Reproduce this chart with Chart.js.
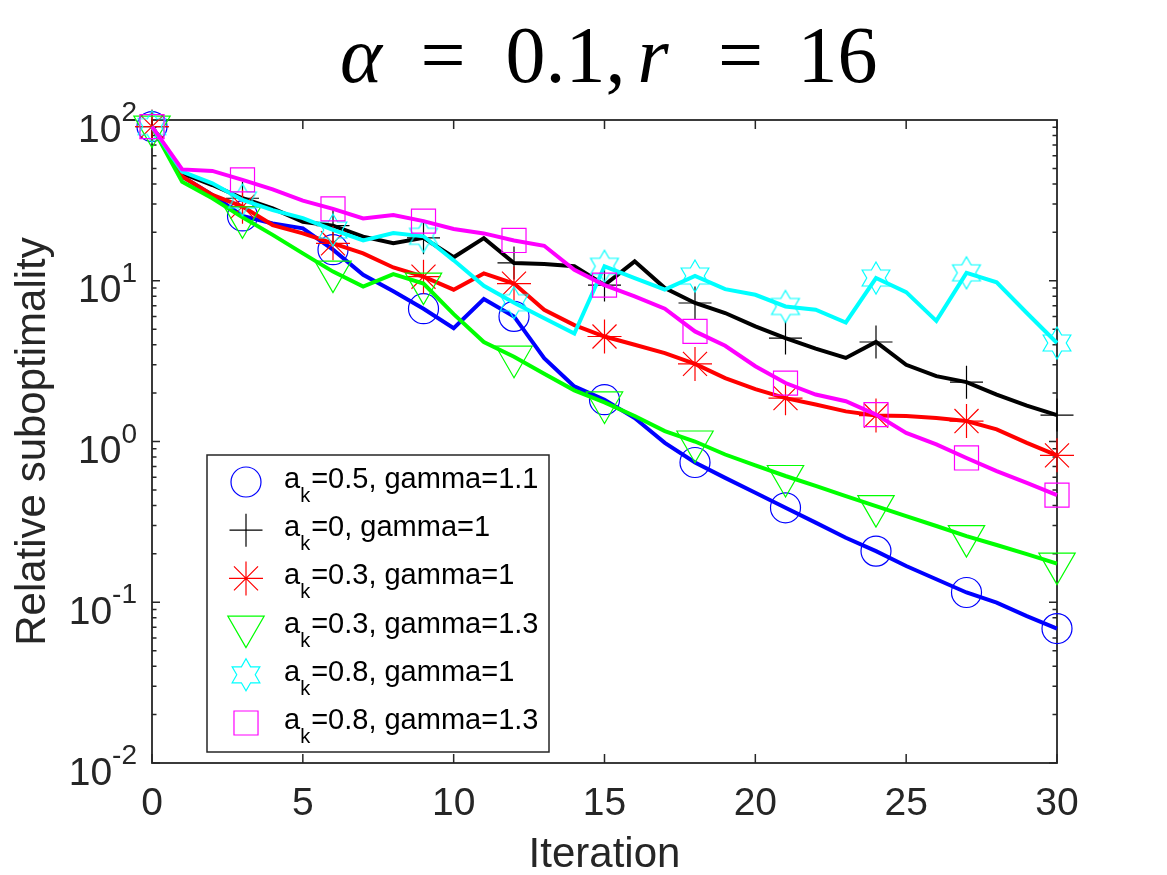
<!DOCTYPE html>
<html>
<head>
<meta charset="utf-8">
<title>Relative suboptimality</title>
<script src="https://cdn.jsdelivr.net/npm/chart.js@4/dist/chart.umd.min.js"></script>
<style>
  html, body { margin: 0; padding: 0; background: #fff; }
  #chart { display: block; }
</style>
</head>
<body>
<canvas id="chart" width="1167" height="875"></canvas>
<script>
// data
const iterations = [0, 1, 2, 3, 4, 5, 6, 7, 8, 9, 10, 11, 12, 13, 14, 15,
  16, 17, 18, 19, 20, 21, 22, 23, 24, 25, 26, 27, 28, 29, 30];
const xTicks = [0, 5, 10, 15, 20, 25, 30];
const yTickExps = [2, 1, 0, -1, -2];

const ak05g11 = [91, 44.5, 34.2, 25.3, 22.7, 21.2, 15.6, 10.9, 8.6, 6.7, 5.07, 7.7, 6.0, 3.3, 2.2, 1.82,
  1.4, 0.98, 0.74, 0.594, 0.48, 0.387, 0.313, 0.252, 0.208, 0.168, 0.139, 0.115, 0.0995, 0.082, 0.0686];
const ak0g1 = [91, 46.6, 39.4, 32.6, 28.2, 23.3, 22.0, 18.8, 17.1, 18.5, 14.0, 18.4, 12.9, 12.7, 12.3, 9.4,
  13.2, 9.0, 7.27, 6.3, 5.2, 4.4, 3.78, 3.31, 4.16, 3.0, 2.55, 2.34, 1.96, 1.67, 1.46];
const ak03g1 = [91, 44.5, 34.2, 28.9, 22.2, 19.7, 17.1, 14.8, 12.1, 10.6, 8.8, 11.1, 9.6, 6.6, 5.3, 4.5,
  4.0, 3.55, 3.04, 2.48, 2.12, 1.86, 1.70, 1.54, 1.45, 1.44, 1.40, 1.34, 1.19, 0.98, 0.82];
const ak03g13 = [91, 41.3, 32.6, 24.8, 19.3, 14.8, 11.4, 9.2, 11.0, 9.6, 6.2, 4.16, 3.37, 2.64, 2.08, 1.75,
  1.44, 1.16, 1.0, 0.83, 0.71, 0.61, 0.53, 0.457, 0.396, 0.343, 0.298, 0.258, 0.227, 0.199, 0.174];
const ak08g1 = [91, 47.7, 40.4, 31.8, 27.5, 24.5, 20.7, 17.8, 19.8, 18.9, 13.4, 9.3, 7.3, 5.85, 4.7, 12.3,
  10.4, 8.8, 10.7, 8.87, 8.18, 6.92, 6.6, 5.5, 10.4, 8.5, 5.63, 11.2, 9.77, 6.3, 4.1];
const ak08g13 = [91, 49.3, 48.2, 42.4, 37.0, 31.5, 28.0, 24.4, 25.6, 23.5, 21.0, 19.7, 17.8, 16.5, 11.7, 9.4,
  8.0, 6.7, 4.84, 3.94, 2.94, 2.31, 1.96, 1.78, 1.47, 1.13, 0.96, 0.79, 0.655, 0.553, 0.464];

const seriesNames = ['=0.5, gamma=1.1', '=0, gamma=1', '=0.3, gamma=1',
  '=0.3, gamma=1.3', '=0.8, gamma=1', '=0.8, gamma=1.3'];
const seriesValues = [ak05g11, ak0g1, ak03g1, ak03g13, ak08g1, ak08g13];
const seriesColors = ['#0000ff', '#000000', '#ff0000', '#00ff00', '#00ffff', '#ff00ff'];
const seriesMarkers = ['circle', 'cross', 'star', 'triangleDown', 'hexagram', 'rect'];

const AXIS = '#262626';
const SANS = '"Liberation Sans", Arial, Helvetica, sans-serif';
const SERIF = '"Liberation Serif", "Times New Roman", serif';
const MARK_EVERY = 3;

// marker sizes (Chart.js radius semantics)
const markerRadius = { circle: 15, cross: 16.5, star: 17, triangleDown: 21, hexagram: 16, rect: 17 };

// six pointed star, not built into Chart.js
function hexagramPath(g, x, y, r) {
  const inner = r / Math.sqrt(3);
  g.beginPath();
  for (let k = 0; k < 12; k++) {
    const a = -Math.PI / 2 + k * Math.PI / 6;
    const rr = k % 2 === 0 ? r : inner;
    const px = x + Math.cos(a) * rr, py = y + Math.sin(a) * rr;
    if (k === 0) g.moveTo(px, py); else g.lineTo(px, py);
  }
  g.closePath();
}

function hexagramCanvas(r, color) {
  const c = document.createElement('canvas');
  const s = Math.ceil(2 * r + 4);
  c.width = s; c.height = s;
  const g = c.getContext('2d');
  g.strokeStyle = color;
  g.lineWidth = 1.2;
  hexagramPath(g, s / 2, s / 2, r);
  g.stroke();
  return c;
}

// legend marker drawing, same shapes as the plotted points
function drawMarker(g, kind, x, y, color) {
  const r = markerRadius[kind];
  g.save();
  g.strokeStyle = color;
  g.lineWidth = 1.2;
  g.beginPath();
  if (kind === 'circle') {
    g.arc(x, y, r, 0, Math.PI * 2);
  } else if (kind === 'cross' || kind === 'star') {
    g.moveTo(x, y - r); g.lineTo(x, y + r);
    g.moveTo(x - r, y); g.lineTo(x + r, y);
    if (kind === 'star') {
      const d = r * Math.SQRT1_2;
      g.moveTo(x - d, y - d); g.lineTo(x + d, y + d);
      g.moveTo(x - d, y + d); g.lineTo(x + d, y - d);
    }
  } else if (kind === 'triangleDown') {
    for (let k = 0; k < 3; k++) {
      const a = Math.PI + k * 2 * Math.PI / 3;
      const px = x + Math.sin(a) * r, py = y - Math.cos(a) * r;
      if (k === 0) g.moveTo(px, py); else g.lineTo(px, py);
    }
    g.closePath();
  } else if (kind === 'hexagram') {
    hexagramPath(g, x, y, r);
  } else if (kind === 'rect') {
    const s = r * Math.SQRT1_2;
    g.rect(x - s, y - s, 2 * s, 2 * s);
  }
  g.stroke();
  g.restore();
}

function pointStyleFor(kind, color) {
  if (kind === 'hexagram') return hexagramCanvas(markerRadius.hexagram, color);
  if (kind === 'triangleDown') return 'triangle';
  return kind;
}

const datasets = seriesValues.map((vals, i) => ({
  label: 'a_k' + seriesNames[i],
  data: iterations.map((it, j) => ({ x: it, y: vals[j] })),
  borderColor: seriesColors[i],
  borderWidth: 4,
  tension: 0,
  fill: false,
  clip: false,
  order: seriesValues.length - 1 - i, // last series on top, like MATLAB
  pointStyle: pointStyleFor(seriesMarkers[i], seriesColors[i]),
  rotation: seriesMarkers[i] === 'triangleDown' ? 180 : 0,
  pointRadius: ctx => (ctx.dataIndex % MARK_EVERY === 0 ? markerRadius[seriesMarkers[i]] : 0),
  pointBorderWidth: 1.2,
  pointBorderColor: seriesColors[i],
  pointBackgroundColor: 'rgba(0,0,0,0)'
}));

// axes box, inward ticks, tick labels, titles
const axesPlugin = {
  id: 'matlabAxes',
  beforeDatasetsDraw(chart) {
    const { ctx, chartArea: a, scales } = chart;
    const xs = scales.x, ys = scales.y;
    ctx.save();
    ctx.strokeStyle = AXIS;
    ctx.lineWidth = 1.5;
    ctx.beginPath();
    xTicks.forEach(t => {
      const px = xs.getPixelForValue(t);
      ctx.moveTo(px, a.bottom); ctx.lineTo(px, a.bottom - 9);
      ctx.moveTo(px, a.top); ctx.lineTo(px, a.top + 9);
    });
    for (let e = -2; e < 2; e++) {
      for (let m = 1; m < 10; m++) {
        const py = ys.getPixelForValue(m * Math.pow(10, e));
        const len = m === 1 ? 8 : 4.5;
        ctx.moveTo(a.left, py); ctx.lineTo(a.left + len, py);
        ctx.moveTo(a.right, py); ctx.lineTo(a.right - len, py);
      }
    }
    ctx.stroke();
    ctx.lineWidth = 1.8;
    ctx.strokeRect(a.left, a.top, a.right - a.left, a.bottom - a.top);

    ctx.fillStyle = AXIS;
    ctx.font = '39px ' + SANS;
    ctx.textAlign = 'center';
    ctx.textBaseline = 'alphabetic';
    xTicks.forEach(t => ctx.fillText(String(t), xs.getPixelForValue(t), a.bottom + 52));

    yTickExps.forEach(e => {
      const py = ys.getPixelForValue(Math.pow(10, e));
      const right = a.left - 15;
      const sup = String(e).replace('-', '-');
      ctx.font = '28px ' + SANS;
      ctx.textAlign = 'right';
      ctx.fillText(sup, right, py + 1);
      const w = ctx.measureText(sup).width;
      ctx.font = '39px ' + SANS;
      ctx.fillText('10', right - w, py + 21.5);
    });

    ctx.font = '42px ' + SANS;
    ctx.textAlign = 'center';
    const cx = (a.left + a.right) / 2;
    ctx.fillText('Iteration', cx, a.bottom + 104);
    ctx.save();
    ctx.translate(45, (a.top + a.bottom) / 2);
    ctx.rotate(-Math.PI / 2);
    ctx.fillText('Relative suboptimality', 0, 0);
    ctx.restore();

    // title: alpha = 0.1, r = 16 (math italic for the symbols)
    ctx.fillStyle = '#000';
    const parts = [
      ['α', 'italic', -243.5], ['=', '', -161.5], ['0.1,', '', -39],
      ['r', 'italic', 48.5], ['=', '', 136], ['16', '', 233]
    ];
    parts.forEach(([txt, style, dx]) => {
      ctx.font = (style ? style + ' ' : '') + '80px ' + SERIF;
      ctx.fillText(txt, cx + dx, 82);
    });
    ctx.restore();
  },
  afterDraw(chart) {
    const { ctx, chartArea: a } = chart;
    const left = a.left + 55, top = a.top + 335;
    const w = 342, h = 297;
    ctx.save();
    ctx.fillStyle = '#fff';
    ctx.fillRect(left, top, w, h);
    ctx.strokeStyle = AXIS;
    ctx.lineWidth = 1.5;
    ctx.strokeRect(left, top, w, h);
    seriesNames.forEach((name, i) => {
      const y = top + 27 + i * 48.2;
      drawMarker(ctx, seriesMarkers[i], left + 39, y, seriesColors[i]);
      ctx.fillStyle = '#000';
      ctx.textAlign = 'left';
      ctx.textBaseline = 'alphabetic';
      let x = left + 77;
      ctx.font = '29px ' + SANS;
      ctx.fillText('a', x, y + 6);
      x += ctx.measureText('a').width;
      ctx.font = '20px ' + SANS;
      ctx.fillText('k', x, y + 20);
      x += ctx.measureText('k').width + 1;
      ctx.font = '29px ' + SANS;
      ctx.fillText(name, x, y + 6);
    });
    ctx.restore();
  }
};

const chart = new Chart(document.getElementById('chart'), {
  type: 'line',
  data: { datasets },
  options: {
    responsive: false,
    animation: false,
    events: [],
    layout: { padding: { left: 152, right: 110, top: 120, bottom: 112 } },
    plugins: { legend: { display: false }, tooltip: { enabled: false }, title: { display: false } },
    scales: {
      x: { type: 'linear', min: 0, max: 30, display: false },
      y: { type: 'logarithmic', min: 0.01, max: 100, display: false }
    }
  },
  plugins: [axesPlugin]
});
</script>
</body>
</html>
